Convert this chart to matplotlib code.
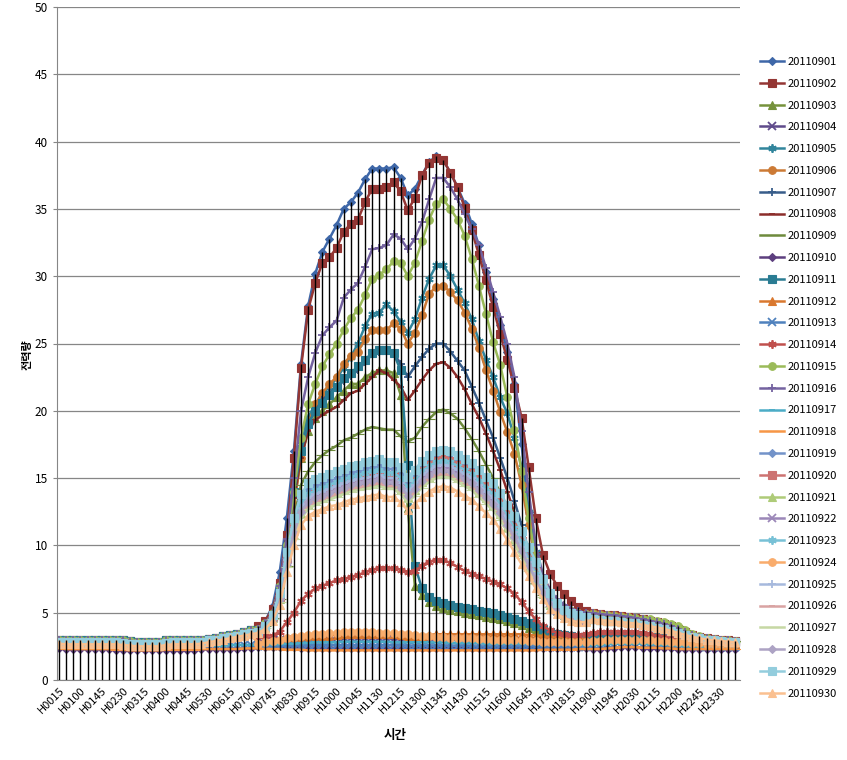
import matplotlib
matplotlib.use("Agg")
import matplotlib.pyplot as plt
import numpy as np

plt.rcParams['font.family'] = ['Noto Sans CJK KR', 'DejaVu Sans']

# 15-minute time slots H0015 .. H2400
TIMES = ['H%02d%02d' % (m // 60, m % 60) for m in range(15, 1441, 15)]

# night part (H0015 .. H0700), shared by several days
NIGHT_HI = [3.0, 3.0, 3.0, 3.0, 3.0, 3.0, 3.0, 3.0, 3.0, 3.0,
            2.9, 2.85, 2.8, 2.8, 2.8, 2.95, 2.95, 2.95, 2.95, 2.95,
            3.0, 3.05, 3.15, 3.25, 3.35, 3.45, 3.55, 3.7]
NIGHT_MID = [2.85, 2.8, 2.8, 2.8, 2.8, 2.8, 2.8, 2.8, 2.8, 2.75,
             2.7, 2.65, 2.65, 2.65, 2.65, 2.75, 2.8, 2.8, 2.8, 2.8,
             2.85, 2.95, 3.0, 3.1, 3.2, 3.3, 3.4, 3.5]
NIGHT_MID2 = [2.7, 2.65, 2.65, 2.65, 2.65, 2.65, 2.65, 2.65, 2.65, 2.6,
              2.55, 2.5, 2.5, 2.5, 2.5, 2.6, 2.65, 2.65, 2.65, 2.65,
              2.7, 2.8, 2.9, 3.0, 3.1, 3.2, 3.3, 3.4]
NIGHT_LOW_A = [2.6, 2.6, 2.6, 2.55, 2.55, 2.55, 2.55, 2.55, 2.5, 2.5,
               2.5, 2.45, 2.45, 2.45, 2.45, 2.5, 2.5, 2.5, 2.5, 2.5,
               2.5, 2.55, 2.55, 2.55, 2.6, 2.6, 2.6, 2.6]
NIGHT_LOW_B = [2.35, 2.3, 2.3, 2.3, 2.3, 2.3, 2.3, 2.3, 2.25, 2.25,
               2.2, 2.2, 2.2, 2.2, 2.2, 2.25, 2.25, 2.25, 2.25, 2.25,
               2.3, 2.3, 2.3, 2.3, 2.3, 2.3, 2.35, 2.35]

# evening part (H1900 .. H2400)
EVE_HI = [4.95, 4.9, 4.85, 4.8, 4.75, 4.7, 4.6, 4.5, 4.4, 4.3,
          4.15, 4.0, 3.8, 3.55, 3.35, 3.2, 3.1, 3.05, 3.0, 2.95, 2.9]
EVE_GREEN = [4.9, 4.85, 4.8, 4.75, 4.7, 4.65, 4.6, 4.55, 4.5, 4.4,
             4.3, 4.15, 4.0, 3.7, 3.45, 3.25, 3.1, 3.05, 3.0, 2.95, 2.9]
EVE_MID = [4.5, 4.45, 4.4, 4.35, 4.3, 4.25, 4.2, 4.1, 4.0, 3.9,
           3.8, 3.65, 3.5, 3.35, 3.2, 3.1, 3.0, 2.95, 2.9, 2.85, 2.8]
EVE_SAT = [3.3, 3.35, 3.4, 3.4, 3.4, 3.4, 3.35, 3.3, 3.25, 3.2,
           3.15, 3.1, 3.05, 3.0, 2.95, 2.9, 2.85, 2.85, 2.8, 2.8, 2.8]
EVE_0914 = [3.5, 3.55, 3.6, 3.6, 3.6, 3.6, 3.55, 3.5, 3.4, 3.3,
            3.2, 3.1, 3.05, 3.0, 2.95, 2.95, 2.9, 2.9, 2.9, 2.9, 2.9]
EVE_LOW_A = [2.6, 2.6, 2.65, 2.7, 2.7, 2.7, 2.7, 2.7, 2.65, 2.65,
             2.6, 2.6, 2.55, 2.5, 2.5, 2.45, 2.45, 2.45, 2.45, 2.45, 2.45]
EVE_LOW_B = [2.3, 2.3, 2.35, 2.4, 2.45, 2.45, 2.45, 2.4, 2.4, 2.4,
             2.35, 2.35, 2.3, 2.3, 2.3, 2.3, 2.3, 2.3, 2.3, 2.3, 2.3]
EVE_LOW_C = [2.9, 2.9, 2.95, 3.0, 3.0, 3.0, 3.0, 2.95, 2.95, 2.9,
             2.9, 2.85, 2.8, 2.8, 2.75, 2.75, 2.7, 2.7, 2.7, 2.7, 2.7]

# day part (H0715 .. H1845), one per day
DAY_0901 = [3.9, 4.4, 5.5, 8.0, 12.0, 17.0, 23.5, 27.8, 30.2, 31.8,
            32.8, 33.8, 35.0, 35.5, 36.2, 37.2, 38.0, 38.0, 38.0, 38.1,
            37.3, 36.0, 36.5, 37.5, 38.5, 38.9, 38.6, 37.7, 36.6, 35.4,
            33.9, 32.3, 30.3, 28.3, 26.4, 24.4, 22.0, 17.5, 12.5, 8.5,
            7.0, 6.2, 5.7, 5.4, 5.2, 5.1, 5.0]
DAY_0902 = [4.0, 4.4, 5.3, 7.2, 10.8, 16.5, 23.2, 27.5, 29.5, 31.0,
            31.4, 32.1, 33.3, 33.9, 34.2, 35.5, 36.5, 36.5, 36.6, 37.0,
            36.3, 34.9, 35.8, 37.5, 38.4, 38.8, 38.6, 37.7, 36.6, 35.1,
            33.4, 31.6, 29.7, 27.7, 25.7, 23.8, 21.7, 19.5, 15.8, 12.0,
            9.3, 7.9, 7.0, 6.4, 5.9, 5.4, 5.1]
DAY_0903 = [3.7, 4.1, 4.8, 6.5, 9.5, 13.0, 16.5, 18.5, 19.5, 20.0,
            20.5, 21.0, 21.5, 22.0, 22.0, 22.5, 22.8, 23.0, 23.0, 22.8,
            21.2, 12.8, 7.0, 6.3, 5.8, 5.5, 5.35, 5.2, 5.1, 5.0,
            4.9, 4.8, 4.7, 4.6, 4.5, 4.35, 4.2, 4.05, 3.9, 3.75,
            3.6, 3.5, 3.4, 3.3, 3.25, 3.2, 3.2]
DAY_0905 = [3.7, 4.1, 4.8, 6.8, 9.8, 14.0, 17.5, 19.5, 20.5, 21.2,
            21.8, 22.4, 23.2, 24.0, 25.0, 26.3, 27.2, 27.3, 27.9, 27.4,
            26.6, 25.8, 26.8, 28.4, 29.8, 30.8, 30.8, 30.0, 29.0, 28.0,
            26.8, 25.2, 23.8, 22.5, 21.0, 19.8, 18.0, 15.8, 12.5, 9.5,
            7.5, 6.3, 5.6, 5.2, 5.0, 4.9, 4.85]
DAY_0906 = [3.7, 4.1, 4.8, 6.5, 9.5, 13.0, 16.5, 19.0, 20.5, 21.3,
            22.0, 22.5, 23.5, 24.1, 24.4, 25.3, 26.0, 26.0, 26.0, 26.5,
            26.1, 25.0, 25.8, 27.1, 28.7, 29.2, 29.3, 28.8, 28.2, 27.3,
            26.1, 24.7, 23.0, 21.5, 19.9, 18.4, 16.8, 14.5, 11.5, 8.8,
            7.2, 6.2, 5.6, 5.3, 5.1, 5.0, 4.9]
DAY_0907 = [3.7, 4.1, 4.8, 6.5, 9.5, 13.5, 17.0, 19.0, 20.0, 20.8,
            21.3, 21.8, 22.2, 22.6, 23.0, 23.6, 24.2, 24.4, 24.5, 24.3,
            23.5, 22.5, 23.3, 24.0, 24.6, 25.0, 25.0, 24.4, 23.7, 23.0,
            21.8, 20.6, 19.3, 18.0, 16.5, 15.0, 13.3, 11.5, 9.5, 8.0,
            6.8, 6.0, 5.5, 5.2, 5.0, 4.9, 4.85]
DAY_0908 = [3.7, 4.1, 4.8, 6.5, 9.5, 13.5, 16.5, 18.5, 19.3, 19.7,
            20.0, 20.3, 20.8, 21.3, 21.5, 22.0, 22.5, 23.0, 22.8, 22.3,
            21.8, 20.8, 21.5, 22.3, 23.0, 23.5, 23.6, 23.2, 22.5, 21.6,
            20.5, 19.5, 18.3, 17.0, 15.6, 14.0, 12.4, 10.8, 9.3, 7.8,
            6.8, 6.0, 5.5, 5.2, 5.0, 4.9, 4.85]
DAY_0909 = [3.7, 4.0, 4.6, 6.0, 8.5, 12.0, 14.5, 15.5, 16.2, 16.7,
            17.1, 17.4, 17.8, 18.0, 18.3, 18.6, 18.8, 18.7, 18.6, 18.6,
            18.1, 17.7, 18.0, 18.8, 19.4, 19.9, 20.1, 19.8, 19.4, 18.7,
            17.9, 17.0, 16.0, 15.0, 13.9, 12.7, 11.3, 9.8, 8.4, 7.2,
            6.3, 5.7, 5.3, 5.1, 5.0, 4.9, 4.85]
DAY_0911 = [3.7, 4.1, 4.8, 6.8, 9.8, 14.0, 17.0, 19.0, 20.0, 20.6,
            21.2, 21.8, 22.4, 22.8, 23.3, 23.8, 24.3, 24.5, 24.5, 24.3,
            23.0, 16.0, 8.5, 6.8, 6.2, 5.9, 5.7, 5.55, 5.45, 5.35,
            5.25, 5.15, 5.05, 4.95, 4.85, 4.7, 4.55, 4.4, 4.2, 4.0,
            3.8, 3.6, 3.45, 3.35, 3.25, 3.2, 3.2]
DAY_0914 = [3.3, 3.3, 3.3, 3.6, 4.3, 5.0, 5.9, 6.4, 6.8, 7.0,
            7.2, 7.4, 7.5, 7.65, 7.8, 8.0, 8.2, 8.3, 8.3, 8.3,
            8.2, 8.0, 8.1, 8.5, 8.8, 8.9, 8.9, 8.7, 8.4, 8.1,
            7.9, 7.7, 7.5, 7.3, 7.1, 6.8, 6.4, 5.8, 5.1, 4.5,
            4.0, 3.7, 3.5, 3.4, 3.35, 3.35, 3.4]
DAY_0915 = [3.8, 4.2, 5.0, 7.0, 10.0, 14.0, 18.0, 20.5, 22.0, 23.3,
            24.2, 25.0, 26.0, 26.9, 27.5, 28.6, 29.8, 30.1, 30.5, 31.1,
            31.0, 30.0, 31.0, 32.6, 34.2, 35.4, 35.7, 35.0, 34.2, 33.0,
            31.3, 29.3, 27.2, 25.1, 23.4, 21.0, 18.6, 15.5, 12.0, 9.0,
            7.2, 6.2, 5.6, 5.3, 5.1, 5.0, 4.9]
DAY_0916 = [3.8, 4.2, 5.0, 7.0, 10.5, 15.0, 20.0, 22.5, 24.3, 25.6,
            26.2, 26.7, 28.4, 29.0, 29.5, 30.7, 32.0, 32.1, 32.3, 33.1,
            32.8, 32.0, 32.8, 34.0, 35.7, 37.3, 37.3, 36.6, 35.7, 34.6,
            33.5, 32.3, 30.6, 28.8, 27.0, 25.0, 22.5, 18.5, 14.0, 10.0,
            7.8, 6.7, 6.0, 5.6, 5.3, 5.1, 5.0]
DAY_0919 = [3.6, 4.0, 4.7, 6.3, 9.2, 11.8, 13.4, 14.1, 14.4, 14.6,
            14.8, 15.0, 15.2, 15.4, 15.5, 15.7, 15.8, 15.9, 15.7, 15.7,
            15.3, 14.6, 15.1, 15.8, 16.2, 16.5, 16.6, 16.5, 16.2, 15.9,
            15.6, 15.1, 14.6, 14.1, 13.4, 12.5, 11.6, 10.5, 9.3, 8.2,
            7.0, 6.1, 5.4, 5.0, 4.8, 4.7, 4.6]
DAY_0920 = [3.6, 4.0, 4.7, 6.2, 9.0, 11.3, 12.9, 13.5, 13.8, 14.0,
            14.2, 14.4, 14.6, 14.8, 14.9, 15.1, 15.2, 15.3, 15.2, 15.2,
            14.8, 14.2, 14.8, 15.5, 16.0, 16.3, 16.4, 16.3, 16.0, 15.7,
            15.4, 14.9, 14.4, 13.9, 13.2, 12.3, 11.4, 10.3, 9.1, 8.0,
            6.9, 6.0, 5.3, 4.9, 4.7, 4.6, 4.5]
DAY_0921 = [3.5, 3.9, 4.6, 6.0, 8.7, 10.8, 12.4, 13.1, 13.4, 13.6,
            13.8, 14.0, 14.2, 14.4, 14.5, 14.6, 14.7, 14.8, 14.6, 14.6,
            14.2, 13.6, 14.1, 14.7, 15.1, 15.4, 15.5, 15.4, 15.1, 14.8,
            14.5, 14.0, 13.5, 13.0, 12.3, 11.4, 10.5, 9.5, 8.4, 7.4,
            6.4, 5.6, 5.1, 4.8, 4.6, 4.5, 4.4]
DAY_0922 = [3.6, 3.9, 4.6, 6.0, 8.8, 11.0, 12.6, 13.3, 13.6, 13.8,
            14.0, 14.2, 14.4, 14.6, 14.7, 14.8, 14.9, 15.0, 14.8, 14.8,
            14.4, 13.8, 14.3, 15.0, 15.4, 15.7, 15.8, 15.7, 15.4, 15.1,
            14.8, 14.3, 13.8, 13.3, 12.6, 11.7, 10.8, 9.7, 8.6, 7.6,
            6.6, 5.7, 5.1, 4.8, 4.6, 4.5, 4.4]
DAY_0923 = [3.6, 4.0, 4.7, 6.2, 9.0, 11.5, 13.1, 13.8, 14.1, 14.3,
            14.5, 14.7, 14.9, 15.1, 15.2, 15.4, 15.5, 15.6, 15.4, 15.4,
            15.0, 14.3, 14.8, 15.5, 15.9, 16.2, 16.3, 16.2, 15.9, 15.6,
            15.3, 14.8, 14.3, 13.8, 13.1, 12.2, 11.3, 10.2, 9.0, 7.9,
            6.8, 5.9, 5.3, 4.9, 4.7, 4.6, 4.5]
DAY_0925 = [3.6, 4.0, 4.7, 6.1, 8.9, 11.2, 12.8, 13.5, 13.8, 14.0,
            14.2, 14.4, 14.6, 14.8, 14.9, 15.0, 15.1, 15.2, 15.0, 15.0,
            14.6, 14.0, 14.5, 15.2, 15.6, 15.9, 16.0, 15.9, 15.6, 15.3,
            15.0, 14.5, 14.0, 13.5, 12.8, 11.9, 11.0, 9.9, 8.8, 7.7,
            6.7, 5.8, 5.2, 4.8, 4.6, 4.5, 4.45]
DAY_0926 = [3.5, 3.9, 4.5, 5.9, 8.5, 10.6, 12.2, 12.9, 13.2, 13.4,
            13.6, 13.8, 14.0, 14.2, 14.3, 14.4, 14.5, 14.6, 14.4, 14.4,
            14.0, 13.4, 13.9, 14.5, 14.9, 15.2, 15.3, 15.2, 14.9, 14.6,
            14.3, 13.8, 13.3, 12.8, 12.1, 11.2, 10.3, 9.3, 8.3, 7.3,
            6.3, 5.5, 5.0, 4.7, 4.5, 4.4, 4.35]
DAY_0927 = [3.5, 3.9, 4.5, 5.8, 8.4, 10.5, 12.0, 12.7, 13.0, 13.2,
            13.4, 13.6, 13.8, 14.0, 14.1, 14.2, 14.3, 14.4, 14.2, 14.2,
            13.8, 13.2, 13.7, 14.3, 14.7, 15.0, 15.1, 15.0, 14.7, 14.4,
            14.1, 13.6, 13.1, 12.6, 11.9, 11.0, 10.1, 9.1, 8.1, 7.1,
            6.2, 5.4, 5.0, 4.7, 4.5, 4.4, 4.35]
DAY_0928 = [3.5, 3.9, 4.6, 6.0, 8.7, 10.9, 12.5, 13.2, 13.5, 13.7,
            13.9, 14.1, 14.3, 14.5, 14.6, 14.7, 14.8, 14.9, 14.7, 14.7,
            14.3, 13.7, 14.2, 14.8, 15.2, 15.5, 15.6, 15.5, 15.2, 14.9,
            14.6, 14.1, 13.6, 13.1, 12.4, 11.5, 10.6, 9.6, 8.5, 7.5,
            6.5, 5.6, 5.1, 4.8, 4.6, 4.5, 4.4]
DAY_0929 = [3.6, 4.0, 4.8, 6.5, 9.5, 12.0, 13.8, 14.6, 14.9, 15.1,
            15.3, 15.5, 15.7, 15.9, 16.0, 16.2, 16.3, 16.4, 16.2, 16.2,
            15.8, 15.1, 15.6, 16.3, 16.7, 17.0, 17.1, 17.0, 16.7, 16.4,
            16.1, 15.6, 15.1, 14.6, 13.9, 13.0, 12.2, 11.1, 9.9, 8.8,
            7.5, 6.5, 5.7, 5.2, 5.0, 4.8, 4.7]
DAY_0930 = [3.5, 3.8, 4.4, 5.6, 8.0, 10.0, 11.5, 12.2, 12.5, 12.7,
            12.9, 13.0, 13.2, 13.4, 13.5, 13.6, 13.7, 13.8, 13.6, 13.6,
            13.2, 12.6, 13.1, 13.6, 14.0, 14.3, 14.4, 14.3, 14.0, 13.7,
            13.4, 12.9, 12.4, 11.9, 11.2, 10.4, 9.5, 8.6, 7.7, 6.8,
            6.0, 5.3, 4.9, 4.6, 4.4, 4.3, 4.3]

# low days (holidays / weekends)
DAY_0904 = [2.9, 2.9, 2.9, 2.95, 2.95, 3.0, 3.0, 3.0, 3.05, 3.05,
            3.05, 3.1, 3.1, 3.1, 3.1, 3.1, 3.1, 3.1, 3.1, 3.05,
            3.05, 3.05, 3.0, 3.0, 3.0, 3.0, 3.0, 3.0, 3.0, 3.0,
            2.95, 2.95, 2.95, 2.95, 2.95, 2.9, 2.9, 2.9, 2.9, 2.9,
            2.9, 2.9, 2.9, 2.9, 2.9, 2.9, 2.9]
DAY_0910 = [2.45, 2.45, 2.45, 2.45, 2.45, 2.45, 2.4, 2.4, 2.4, 2.4,
            2.4, 2.4, 2.4, 2.4, 2.4, 2.4, 2.4, 2.4, 2.4, 2.4,
            2.4, 2.4, 2.4, 2.4, 2.4, 2.4, 2.4, 2.4, 2.4, 2.4,
            2.4, 2.4, 2.4, 2.4, 2.4, 2.4, 2.4, 2.4, 2.4, 2.4,
            2.4, 2.4, 2.4, 2.4, 2.4, 2.4, 2.4]
DAY_0912 = [2.7, 2.75, 2.8, 2.9, 3.0, 3.1, 3.15, 3.2, 3.25, 3.3,
            3.3, 3.35, 3.4, 3.4, 3.45, 3.45, 3.45, 3.4, 3.4, 3.4,
            3.35, 3.3, 3.3, 3.3, 3.35, 3.4, 3.4, 3.4, 3.4, 3.4,
            3.4, 3.4, 3.4, 3.4, 3.4, 3.4, 3.4, 3.4, 3.35, 3.3,
            3.25, 3.2, 3.2, 3.15, 3.1, 3.1, 3.05]
DAY_0913 = [2.5, 2.5, 2.5, 2.5, 2.55, 2.55, 2.55, 2.6, 2.6, 2.6,
            2.6, 2.6, 2.6, 2.6, 2.6, 2.6, 2.6, 2.6, 2.6, 2.6,
            2.6, 2.55, 2.55, 2.55, 2.55, 2.55, 2.55, 2.55, 2.55, 2.55,
            2.5, 2.5, 2.5, 2.5, 2.5, 2.5, 2.5, 2.5, 2.5, 2.5,
            2.5, 2.45, 2.45, 2.45, 2.45, 2.45, 2.45]
DAY_0917 = [2.6, 2.6, 2.65, 2.65, 2.7, 2.7, 2.75, 2.75, 2.8, 2.8,
            2.8, 2.8, 2.85, 2.85, 2.85, 2.85, 2.85, 2.85, 2.85, 2.8,
            2.8, 2.8, 2.8, 2.8, 2.8, 2.8, 2.8, 2.75, 2.75, 2.75,
            2.75, 2.75, 2.7, 2.7, 2.7, 2.7, 2.7, 2.7, 2.7, 2.7,
            2.65, 2.65, 2.65, 2.65, 2.65, 2.6, 2.6]
DAY_0918 = [2.35, 2.3, 2.3, 2.3, 2.25, 2.25, 2.25, 2.2, 2.2, 2.2,
            2.2, 2.2, 2.2, 2.2, 2.2, 2.2, 2.2, 2.2, 2.2, 2.2,
            2.2, 2.2, 2.2, 2.2, 2.2, 2.2, 2.2, 2.2, 2.2, 2.2,
            2.2, 2.2, 2.2, 2.2, 2.2, 2.2, 2.2, 2.2, 2.2, 2.2,
            2.25, 2.25, 2.25, 2.25, 2.25, 2.3, 2.3]
DAY_0924 = [2.7, 2.8, 2.9, 3.0, 3.1, 3.2, 3.3, 3.35, 3.4, 3.45,
            3.5, 3.5, 3.55, 3.6, 3.6, 3.6, 3.55, 3.5, 3.5, 3.5,
            3.45, 3.4, 3.35, 3.3, 3.25, 3.2, 3.2, 3.15, 3.15, 3.1,
            3.1, 3.05, 3.05, 3.0, 3.0, 3.0, 2.95, 2.95, 2.9, 2.9,
            2.85, 2.85, 2.8, 2.8, 2.8, 2.8, 2.8]

LABELS = ['201109%02d' % d for d in range(1, 31)]

SERIES = [
    NIGHT_HI + DAY_0901 + EVE_HI,
    NIGHT_HI + DAY_0902 + EVE_HI,
    NIGHT_HI + DAY_0903 + EVE_SAT,
    NIGHT_MID + DAY_0904 + EVE_LOW_C,
    NIGHT_HI + DAY_0905 + EVE_HI,
    NIGHT_HI + DAY_0906 + EVE_HI,
    NIGHT_HI + DAY_0907 + EVE_HI,
    NIGHT_HI + DAY_0908 + EVE_HI,
    NIGHT_HI + DAY_0909 + EVE_GREEN,
    NIGHT_LOW_B + DAY_0910 + EVE_LOW_B,
    NIGHT_HI + DAY_0911 + EVE_SAT,
    NIGHT_MID2 + DAY_0912 + EVE_LOW_C,
    NIGHT_LOW_A + DAY_0913 + EVE_LOW_A,
    NIGHT_MID + DAY_0914 + EVE_0914,
    NIGHT_HI + DAY_0915 + EVE_GREEN,
    NIGHT_HI + DAY_0916 + EVE_HI,
    NIGHT_LOW_A + DAY_0917 + EVE_LOW_A,
    NIGHT_LOW_B + DAY_0918 + EVE_LOW_B,
    NIGHT_MID + DAY_0919 + EVE_MID,
    NIGHT_MID + DAY_0920 + EVE_MID,
    NIGHT_MID + DAY_0921 + EVE_MID,
    NIGHT_MID + DAY_0922 + EVE_MID,
    NIGHT_MID + DAY_0923 + EVE_MID,
    NIGHT_MID2 + DAY_0924 + EVE_LOW_C,
    NIGHT_MID + DAY_0925 + EVE_MID,
    NIGHT_MID2 + DAY_0926 + EVE_MID,
    NIGHT_MID2 + DAY_0927 + EVE_MID,
    NIGHT_MID + DAY_0928 + EVE_MID,
    NIGHT_MID + DAY_0929 + EVE_MID,
    NIGHT_MID2 + DAY_0930 + EVE_MID,
]

COLORS = ['#3E67A8', '#943634', '#76923C', '#5F4B8B', '#31859C', '#CC7A35',
          '#385D8A', '#8C2D2B', '#6E8B3D', '#5D3F7F', '#2A7C93', '#D9782F',
          '#4F81BD', '#C0504D', '#9BBB59', '#7462A0', '#4BACC6', '#F79646',
          '#7393C9', '#CD7371', '#AECB78', '#9B87B8', '#78C1D6', '#F9AC6C',
          '#A6B9DD', '#D9A3A2', '#C6D8A4', '#ADA3C4', '#93CDDD', '#FAC090']

# Excel marker cycle: diamond, square, triangle, x, star, circle, plus, dash, long dash
MARKERS = ['D', 's', '^', 'x', (6, 2, 0), 'o', '+', '_', '_']
MSIZES = [4.5, 5.5, 5.5, 5.5, 6, 5.5, 6, 5, 9]

x = np.arange(len(TIMES))

fig = plt.figure(figsize=(8.47, 7.6), dpi=100)
ax = fig.add_axes([57 / 847, 1 - 680 / 760, (740 - 57) / 847, (680 - 7) / 760])

for k, vals in enumerate(SERIES):
    m = k % 9
    ax.plot(x, vals, color=COLORS[k], lw=1.8, marker=MARKERS[m],
            markersize=MSIZES[m], markeredgewidth=1.3 if m in (3, 4, 6, 7) else 0.8,
            markerfacecolor=COLORS[k], markeredgecolor=COLORS[k],
            label=LABELS[k], zorder=2)

# drop lines from the highest value down to the axis
top = np.array(SERIES).max(axis=0)
ax.vlines(x, 0, top, color='black', lw=1.0, zorder=3)

ax.set_xlim(-0.3, 95.7)
ax.set_ylim(0, 50)
ax.set_yticks(range(0, 51, 5))
ax.set_xticks(x[::3])
ax.set_xticklabels(TIMES[::3], rotation=45, ha='right', rotation_mode='anchor', fontsize=8)
ax.tick_params(axis='y', labelsize=8.5, length=3, color='#868686')
ax.tick_params(axis='x', length=0, pad=4)
ax.grid(axis='y', color='#868686', lw=0.9)
ax.set_axisbelow(True)
for side in ['top', 'right']:
    ax.spines[side].set_visible(False)
ax.spines['left'].set_color('#868686')
ax.spines['bottom'].set_color('#868686')

fig.text(27 / 847, 1 - 355 / 760, '전력량', rotation=90, fontsize=8, fontweight='bold',
         ha='center', va='center')
fig.text(395 / 847, 1 - 735 / 760, '시간', fontsize=9, fontweight='bold',
         ha='center', va='center')

fig.legend(loc='upper left', bbox_to_anchor=(760 / 847, 1 - 57 / 760), frameon=False,
           fontsize=8, handlelength=2.2, handletextpad=0.3, labelspacing=1.06,
           borderaxespad=0, borderpad=0)

fig.savefig('out.png', dpi=100)
